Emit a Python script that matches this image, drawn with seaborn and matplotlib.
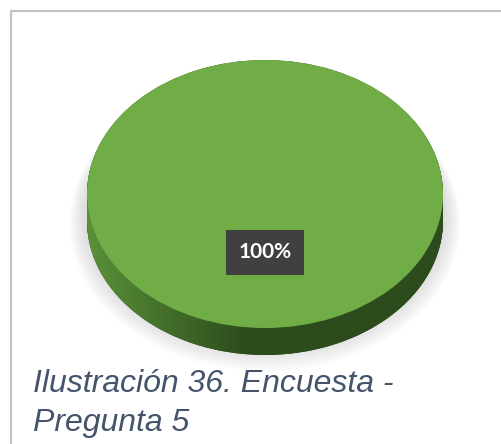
import numpy as np
import matplotlib
matplotlib.use("Agg")
import matplotlib.pyplot as plt
import seaborn as sns
from matplotlib.colors import LinearSegmentedColormap
from matplotlib.path import Path
from matplotlib.patches import PathPatch
from matplotlib.lines import Line2D

# data
categories = ["Sí"]
values = [100]
caption_lines = ["Ilustración 36. Encuesta -", "Pregunta 5"]

sns.set_theme(style="white")
plt.rcParams["font.family"] = ["Liberation Sans", "DejaVu Sans"]

W, H = 501, 444
fig = plt.figure(figsize=(W / 100, H / 100), dpi=100)
fig.patch.set_facecolor("white")

# pie geometry in pixels (center, semi axes, side depth)
cx, cy, rx, ry, depth_px = 265, 194, 178, 134, 27
ax = fig.add_axes([0, 0, 1, 1])
depth = depth_px / ry

# soft shadow behind
for k in range(8):
    ax.pie(values, radius=1.0 + 0.012 * (k + 1), center=(0, -depth * 0.75 - 0.01 * k),
           colors=["#7f7f7f"], startangle=90, normalize=True,
           wedgeprops=dict(alpha=0.035, linewidth=0), frame=True)

# side of the 3d pie: stacked copies shifted down
for d in np.linspace(depth, 0, 28):
    ax.pie(values, radius=1.0, center=(0, -d), colors=["#34561f"], startangle=90,
           wedgeprops=dict(linewidth=0), frame=True)

# gradient on the visible side band
t = np.linspace(np.pi, 2 * np.pi, 200)
xs = np.cos(t)
band = np.concatenate([np.column_stack([xs, np.sin(t) - depth]),
                       np.column_stack([xs[::-1], np.sin(t)[::-1]])])
clip = PathPatch(Path(band), facecolor="none", edgecolor="none", transform=ax.transData)
ax.add_patch(clip)
gx = np.linspace(-1, 1, 400)
grad = np.clip((gx + 1) / 0.9, 0, 1)[None, :]
cmap = LinearSegmentedColormap.from_list("side", ["#5a9139", "#2d4b1c"])
img = ax.imshow(grad, extent=[-1, 1, -1 - depth, 0], aspect="auto", cmap=cmap,
                vmin=0, vmax=1, zorder=2)
img.set_clip_path(clip)

# top face
wedges, texts, autotexts = ax.pie(values, radius=1.0, center=(0, 0), colors=["#70ad47"],
                                  startangle=90, autopct="%1.0f%%", pctdistance=0.433,
                                  wedgeprops=dict(linewidth=0), frame=True)
for w in wedges:
    w.set_zorder(3)
for a in autotexts:
    a.set_color("white")
    a.set_fontweight("bold")
    a.set_fontsize(15)
    a.set_family(["Lato", "DejaVu Sans"])
    a.set_zorder(5)
    a.set_bbox(dict(boxstyle="square,pad=0.6", facecolor="#404040", edgecolor="none"))

# stretch the pie into an ellipse
ax.set_aspect("auto")
ax.set_xlim(-cx / rx, (W - cx) / rx)
ax.set_ylim(-(H - cy) / ry, cy / ry)
ax.set_xticks([])
ax.set_yticks([])
for s in ax.spines.values():
    s.set_visible(False)

# chart frame
fig.add_artist(Line2D([10.5 / W, 10.5 / W], [0, 1 - 11 / H], color="#c4c4c4", lw=1.6))
fig.add_artist(Line2D([10.5 / W, 1], [1 - 11 / H, 1 - 11 / H], color="#c4c4c4", lw=1.6))

# caption
fig.text(33 / W, 1 - 392 / H, caption_lines[0], fontsize=23, style="italic",
         color="#44546a", va="baseline", ha="left")
fig.text(33 / W, 1 - 431 / H, caption_lines[1], fontsize=23, style="italic",
         color="#44546a", va="baseline", ha="left")

fig.savefig("out.png", dpi=100, facecolor="white")
